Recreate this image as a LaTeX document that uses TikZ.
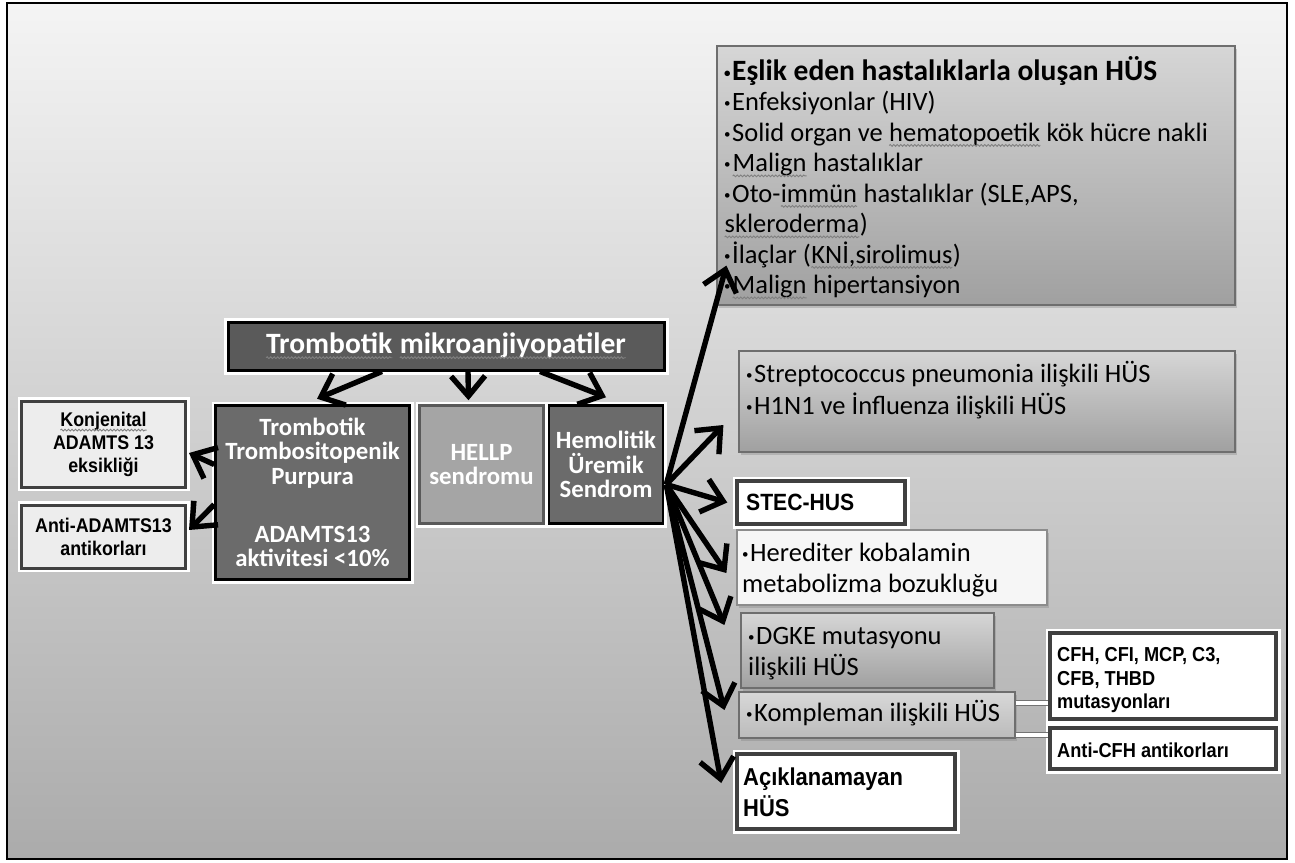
\documentclass[tikz,border=0pt]{standalone}
\usepackage{fontspec}
\setmainfont{Carlito}
\newfontfamily\arialfont{Liberation Sans}[FakeStretch=0.9]
\usetikzlibrary{arrows.meta,shadows,decorations.pathmorphing}

\definecolor{bgtop}{HTML}{F4F4F4}
\definecolor{bgbot}{HTML}{ABABAB}
\definecolor{darkfill}{HTML}{6B6B6B}
\definecolor{titlefill}{HTML}{5A5A5A}
\definecolor{hellpfill}{HTML}{A5A5A5}
\definecolor{gtop}{HTML}{D6D6D6}
\definecolor{gbot}{HTML}{A0A0A0}
\definecolor{ptop}{HTML}{D8D8D8}
\definecolor{pbot}{HTML}{BBBBBB}
\definecolor{edge}{HTML}{6E6E6E}
\definecolor{lightfill}{HTML}{EDEDED}
\definecolor{paperfill}{HTML}{F6F6F6}

% spell-check squiggle under a word
\newcommand\spell[1]{\tikz[baseline=(sw.base)]{%
  \node[draw=none, fill=none, minimum width=0pt, minimum height=0pt,
        inner sep=0pt, outer sep=0pt, anchor=base west] (sw) at (0,0) {#1};
  \draw[gray, line width=0.9pt, decorate,
        decoration={snake, amplitude=0.9pt, segment length=3.5pt}]
    ([yshift=-4pt]sw.base west) -- ([yshift=-4pt]sw.base east);}}
% small list bullet
\newcommand\bul{\makebox[8pt][l]{\raisebox{3pt}{\fontsize{13}{13}\selectfont •}}}

\tikzset{
  arr/.style={line width=5.4pt, -{Straight Barb[length=20pt,width=34pt]}},
  link/.style={draw=black!55, line width=1pt, double=white, double distance=3.5pt},
  titlebox/.style={fill=titlefill, draw=black, line width=3pt,
    preaction={draw=white, line width=9pt}, text=white, inner sep=0pt,
    font=\bfseries\fontsize{29.5}{33}\selectfont},
  darkbox/.style={fill=darkfill, draw=black, line width=2.5pt,
    preaction={draw=white, line width=8pt}, text=white, inner sep=0pt,
    align=center, font=\bfseries\fontsize{24.8}{24.4}\selectfont},
  hellpbox/.style={darkbox, fill=hellpfill, draw=black!65},
  leftbox/.style={fill=lightfill, draw=black!75, line width=3pt,
    preaction={draw=white, line width=8pt}, inner sep=0pt, align=center,
    font=\arialfont\bfseries\fontsize{19.8}{23}\selectfont},
  greybox/.style={top color=gtop, bottom color=gbot, draw=edge, line width=1.2pt,
    drop shadow={opacity=0.35, shadow xshift=2pt, shadow yshift=-3pt}},
  palebox/.style={greybox, top color=ptop, bottom color=pbot},
  lightbox/.style={fill=paperfill, draw=black!45, line width=1.2pt,
    drop shadow={opacity=0.35, shadow xshift=2pt, shadow yshift=-3pt}},
  strongbox/.style={fill=white, draw=black!75, line width=3.5pt,
    preaction={draw=white, line width=9pt}},
  txt/.style={inner sep=0pt, align=left, anchor=north west,
    font=\fontsize{26.5}{30.5}\selectfont},
  atxt/.style={inner sep=0pt, align=left, anchor=north west,
    font=\arialfont\bfseries\fontsize{20.2}{23.3}\selectfont},
}

\begin{document}
\begin{tikzpicture}[x=1pt, y=-1pt]
\useasboundingbox (0,0) rectangle (1295,862);
% slide background and frame
\fill[white] (0,0) rectangle (1295,862);
\shade[top color=bgtop, bottom color=bgbot] (7,3) rectangle (1287,859);
\draw[black, line width=2.5pt] (7,3) rectangle (1287,859);

% central hierarchy
\node[titlebox, minimum width=436pt, minimum height=48pt] (title) at (446,346)
  {\spell{Trombotik} \spell{mikroanjiyopatiler}};
\node[darkbox, minimum width=194pt, minimum height=174pt] (ttp) at (312.5,492.5)
  {Trombotik\\Trombositopenik\\Purpura\\[33.6pt]ADAMTS13\\aktivitesi <10\%};
\node[hellpbox, minimum width=124pt, minimum height=118pt] (hellp) at (481.5,464.5)
  {HELLP\\sendromu};
\node[darkbox, minimum width=114pt, minimum height=118pt] (hus) at (606,464.5)
  {Hemolitik\\Üremik\\Sendrom};

% TTP causes
\node[leftbox, minimum width=164pt, minimum height=86pt] (konj) at (103.5,444)
  {\spell{Konjenital}\\ADAMTS 13\\eksikliği};
\node[leftbox, minimum width=164pt, minimum height=63pt] (antiad) at (103.5,536.5)
  {Anti-ADAMTS13\\antikorları};

% HUS subtypes
\node[greybox, minimum width=518pt, minimum height=259pt] (eslik) at (976,175.5) {};
\node[txt] (eslik-t) at (724,56.2)
  {\strut{\fontsize{29.5}{30.5}\selectfont\bfseries\bul Eşlik eden hastalıklarla oluşan HÜS}\\
   \bul Enfeksiyonlar (HIV)\\
   \bul Solid organ ve \spell{hematopoetik} kök hücre nakli\\
   \bul \spell{Malign} hastalıklar\\
   \bul Oto-\spell{immün} hastalıklar (SLE,APS,\\
   \spell{skleroderma})\\
   \bul İlaçlar (\spell{KNİ,sirolimus})\\
   \bul \spell{Malign} hipertansiyon};

\node[greybox, minimum width=496pt, minimum height=101pt] (strep) at (987,401.5) {};
\node[txt] (strep-t) at (746,361.2)
  {\strut\bul Streptococcus pneumonia ilişkili HÜS\\
   \bul H1N1 ve İnfluenza ilişkili HÜS};

\node[strongbox, minimum width=168pt, minimum height=43pt] (stec) at (821,502.5) {};
\node[atxt, font=\arialfont\bfseries\fontsize{23.5}{27}\selectfont] (stec-t) at (746,491.1)
  {\strut STEC-HUS};

\node[lightbox, minimum width=310pt, minimum height=75pt] (hered) at (892,567.5) {};
\node[txt] (hered-t) at (742,540.2)
  {\strut\bul Herediter kobalamin\\metabolizma bozukluğu};

\node[greybox, minimum width=253pt, minimum height=75pt] (dgke) at (867.5,650.5) {};
\node[txt] (dgke-t) at (748,623.2)
  {\strut\bul DGKE mutasyonu\\ilişkili HÜS};

\node[palebox, minimum width=276pt, minimum height=46pt] (kompl) at (877,715) {};
\node[txt] (kompl-t) at (746,700.2)
  {\strut\bul Kompleman ilişkili HÜS};

\node[strongbox, minimum width=226pt, minimum height=86pt] (cfh) at (1163,676) {};
\node[atxt] (cfh-t) at (1057,645.4)
  {\strut CFH, CFI, MCP, C3,\\CFB, THBD\\mutasyonları};

\node[strongbox, minimum width=226pt, minimum height=41pt] (acfh) at (1163,748.5) {};
\node[atxt] (acfh-t) at (1057,740.7)
  {\strut Anti-CFH antikorları};

\node[strongbox, minimum width=218pt, minimum height=75pt] (acik) at (846,791.5) {};
\node[atxt, font=\arialfont\bfseries\fontsize{24.4}{28}\selectfont] (acik-t) at (743,766)
  {\strut Açıklanamayan\\HÜS};

% complement links
\draw[link] ([yshift=12pt]kompl.east) -- ([yshift=12pt]kompl.east -| cfh.west);
\draw[link] ([yshift=-20pt]kompl.east) -- ([yshift=-20pt]kompl.east -| acfh.west);

% arrows from the title
\draw[arr] ([xshift=-64pt]title.south) -- ([xshift=4.5pt,yshift=5.5pt]ttp.north);
\draw[arr] ([xshift=22pt]title.south) -- ([xshift=-13pt,yshift=4pt]hellp.north);
\draw[arr] ([xshift=94pt]title.south) -- ([yshift=7pt]hus.north);

% arrows from TTP
\draw[arr] ([yshift=28pt]ttp.west) -- ([xshift=2pt,yshift=-9pt]konj.east);
\draw[arr] ([yshift=-12pt]ttp.west) -- ([xshift=2pt,yshift=6.5pt]antiad.east);

% fan of arrows from HUS
\coordinate (fan) at ([xshift=2pt,yshift=-20pt]hus.east);
\draw[arr] (fan) -- ([xshift=10pt,yshift=40pt]eslik.south west);
\draw[arr] (fan) -- ([xshift=-15pt,yshift=-23.5pt]strep.west);
\draw[arr] (fan) -- ([xshift=-8pt]stec.west);
\draw[arr] (fan) -- ([xshift=-10pt,yshift=-5.5pt]hered.west);
\draw[arr] (fan) -- ([xshift=-16pt,yshift=25.5pt]dgke.west);
\draw[arr] (fan) -- ([xshift=-14pt,yshift=5pt]kompl.west);
\draw[arr] (fan) -- ([xshift=-14pt,yshift=8.5pt]acik.west);
\end{tikzpicture}
\end{document}
